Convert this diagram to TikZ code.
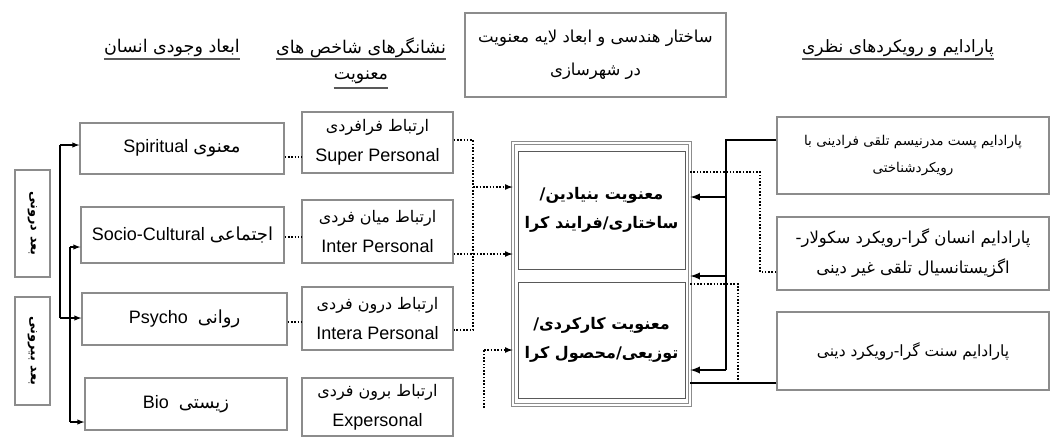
\documentclass[tikz,border=0pt]{standalone}
\usepackage{fontspec}
\setmainfont{Liberation Sans}
\newfontfamily\fafont[Script=Arabic]{DejaVu Sans}
\TeXXeTstate=1
\newcommand{\fa}[1]{{\fafont\beginR #1\endR}}
\newcommand{\fsize}[2]{\fontsize{#1}{#2}\selectfont}
\definecolor{boxgray}{gray}{0.55}
\definecolor{rulegray}{gray}{0.35}
\tikzset{
    box/.style={draw=boxgray,line width=1.3pt,fill=white,inner sep=0pt,align=center},
    head/.style={inner sep=0pt,align=center,font=\fsize{17.5}{20}},
    rule/.style={draw=rulegray,line width=1.3pt},
    dots/.style={line width=1.6pt,dash pattern=on 1.6pt off 1.7pt},
    feed/.style={line width=1.4pt},
    heavy/.style={line width=2.2pt},
}
\begin{document}
\begin{tikzpicture}[x=1pt,y=-1pt,>=latex]
    \useasboundingbox (0,0) rectangle (1051,437);
    % headings
    \node [head] (hHuman) at (172,48) {\fa{ابعاد وجودی انسان}};
    \node [head] (hSign1) at (361,48) {\fa{نشانگرهای شاخص های}};
    \node [head] (hSign2) at (361,77) {\fa{معنویت}};
    \node [box,minimum width=261,minimum height=84,font=\fsize{16.5}{33}] (hLayer) at (595.5,55)
        {\fa{ساختار هندسی و ابعاد لایه معنویت}\\\fa{در شهرسازی}};
    \node [head,font=\fsize{17}{20}] (hTheory) at (898,48) {\fa{پارادایم و رویکردهای نظری}};
    \foreach \h/\d in {hHuman/59,hSign1/59,hSign2/88,hTheory/59}
        \draw [rule] (\h.west |- 0,\d) -- (\h.east |- 0,\d);
    % inner and outer dimension
    \node [box,rotate=-90,minimum width=107,minimum height=35,font=\fsize{13}{16}\bfseries] (inDim) at (32.5,223.5) {\fa{بعد درونی}};
    \node [box,rotate=-90,minimum width=108,minimum height=35,font=\fsize{13}{16}\bfseries] (outDim) at (32.5,351) {\fa{بعد بیرونی}};
    % human dimensions
    \node [box,minimum width=204,minimum height=51,font=\fsize{18}{20}] (spirit) at (182,148.5) {Spiritual \fa{معنوی}};
    \node [box,minimum width=203,minimum height=56,font=\fsize{18}{20}] (socio) at (182.5,235) {Socio-Cultural \fa{اجتماعی}};
    \node [box,minimum width=205,minimum height=52,font=\fsize{18}{20}] (psycho) at (184.5,319) {Psycho~~\fa{روانی}};
    \node [box,minimum width=202,minimum height=52,font=\fsize{18}{20}] (bio) at (186,404) {Bio~~\fa{زیستی}};
    % indicators
    \node [box,minimum width=151,minimum height=61,font=\fsize{18}{30}] (super) at (377.5,142.5) {{\fsize{16}{30}\fa{ارتباط فرافردی}}\\Super Personal};
    \node [box,minimum width=151,minimum height=63,font=\fsize{18}{30}] (inter) at (377.5,231.5) {{\fsize{16}{30}\fa{ارتباط میان فردی}}\\Inter Personal};
    \node [box,minimum width=151,minimum height=63,font=\fsize{18}{30}] (intera) at (377.5,318.5) {{\fsize{16}{30}\fa{ارتباط درون فردی}}\\Intera Personal};
    \node [box,minimum width=151,minimum height=58,font=\fsize{18}{30}] (expers) at (377.5,407) {{\fsize{16}{30}\fa{ارتباط برون فردی}}\\Expersonal};
    % layers of spirituality
    \node [draw=boxgray,double,double distance=1.6pt,line width=0.8pt,fill=white,minimum width=177,minimum height=262] (core) at (601.5,274) {};
    \node [box,draw=rulegray,line width=1pt,minimum width=167,minimum height=118,font=\fsize{16}{29}\bfseries] (base) at (601.5,210)
        {\fa{معنویت بنیادین/}\\\fa{ساختاری/فرایند کرا}};
    \node [box,draw=rulegray,line width=1pt,minimum width=167,minimum height=116,font=\fsize{16}{29}\bfseries] (func) at (601.5,340)
        {\fa{معنویت کارکردی/}\\\fa{توزیعی/محصول کرا}};
    % paradigms
    \node [box,minimum width=272,minimum height=77,font=\fsize{13.5}{27}] (para1) at (913,155.5)
        {\fa{پارادایم پست مدرنیسم تلقی فرادینی با}\\\fa{رویکردشناختی}};
    \node [box,minimum width=272,minimum height=73,font=\fsize{16.5}{30}] (para2) at (913,253.5)
        {\fa{پارادایم انسان گرا-رویکرد سکولار-}\\\fa{اگزیستانسیال تلقی غیر دینی}};
    \node [box,minimum width=272,minimum height=78,font=\fsize{15.5}{28}] (para3) at (913,351)
        {\fa{پارادایم سنت گرا-رویکرد دینی}};
    % left trunks
    \coordinate (ta1) at (60,145);
    \coordinate (ta2) at (60,318);
    \coordinate (tb1) at (70,247);
    \coordinate (tb2) at (70,422);
    \draw [feed] (ta1) -- (ta2);
    \draw [feed] (tb1) -- (tb2);
    \draw [feed,->] (ta1) -- (ta1 -| spirit.west);
    \draw [feed,->] (ta2) -- (ta2 -| psycho.west);
    \draw [feed,->] (tb1) -- (tb1 -| socio.west);
    \draw [feed,->] (tb2) -- (tb2 -| bio.west);
    % dimensions to indicators
    \draw [dots] ([yshift=-8.5pt]spirit.east) -- ([yshift=-8.5pt]spirit.east -| super.west);
    \draw [dots] ([yshift=-2pt]socio.east) -- ([yshift=-2pt]socio.east -| inter.west);
    \draw [dots] ([yshift=-3pt]psycho.east) -- ([yshift=-3pt]psycho.east -| intera.west);
    % indicators to layers
    \coordinate (vd) at (473,330);
    \coordinate (a1) at (473,187);
    \coordinate (a3) at (484,350);
    \coordinate (a4) at (484,408);
    \draw [dots] ([yshift=2.5pt]super.east) -| (vd) -- ([yshift=-11.5pt]intera.east);
    \draw [dots,->] (a1) -- (a1 -| core.west);
    \draw [dots,->] ([yshift=-22.5pt]inter.east) -- ([yshift=-22.5pt]inter.east -| core.west);
    \draw [dots] (a4) -- (a3);
    \draw [dots,->] (a3) -- (a3 -| core.west);
    % paradigms to layers
    \coordinate (s1) at (726,197);
    \coordinate (s2) at (726,276);
    \coordinate (s3) at (726,370);
    \coordinate (r3) at ([yshift=-32pt]para3.west);
    \coordinate (d1) at (760,172);
    \coordinate (d2) at (738,284);
    \draw [heavy] ([yshift=15.5pt]para1.west) -| (s3);
    \foreach \s in {s1,s2,s3}
        \draw [heavy,->] (\s) -- (\s -| core.east);
    \draw [heavy] (r3) -- (r3 -| core.east);
    \draw [dots] ([yshift=-18.5pt]para2.west) -| (d1) -- (d1 -| core.east);
    \draw [dots] (d2 -| core.east) -- (d2) -- (d2 |- r3);
\end{tikzpicture}
\end{document}
